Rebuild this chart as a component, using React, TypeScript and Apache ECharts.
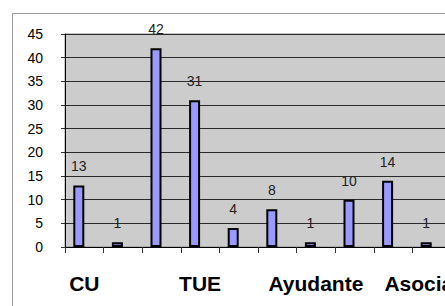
import React, { useEffect, useRef } from "react";
import * as echarts from "echarts";

const categories = [
  "CU",
  "CEU",
  "TU",
  "TUE",
  "Colaborador",
  "Contratado Doctor",
  "Ayudante",
  "Ayudante Doctor",
  "Emérito",
  "Asociado",
];
const values = [13, 1, 42, 31, 4, 8, 1, 10, 14, 1];
const emptySeries = [null, null, null, null, null, null, null, null, null, null];
const yTicks = { min: 0, max: 45, interval: 5 };

const FONT = "'Liberation Sans', Arial, sans-serif";

export default function App() {
  const ref = useRef<HTMLDivElement>(null);
  useEffect(() => {
    if (!ref.current) return;
    const chart = echarts.init(ref.current, null, { renderer: "svg" });
    chart.setOption({
      animation: false,
      backgroundColor: "#ffffff",
      graphic: [
        {
          type: "rect",
          shape: { x: 12.5, y: 13.5, width: 600, height: 400 },
          style: { fill: "none", stroke: "#9a9a9a", lineWidth: 1 },
          z: -10,
          silent: true,
        },
      ],
      grid: {
        left: 65,
        top: 34,
        width: 386,
        height: 213,
        show: true,
        containLabel: false,
        outerBoundsMode: "none",
        backgroundColor: "#cccccc",
        borderColor: "#8a8a8a",
        borderWidth: 1,
      },
      xAxis: {
        type: "category",
        data: categories,
        boundaryGap: true,
        axisLine: { show: true, lineStyle: { color: "#000", width: 1 } },
        axisTick: {
          show: true,
          alignWithLabel: false,
          interval: 0,
          length: 6,
          lineStyle: { color: "#333" },
        },
        axisLabel: {
          interval: 2,
          margin: 26,
          fontFamily: FONT,
          fontSize: 21,
          fontWeight: "bold",
          color: "#000",
        },
      },
      yAxis: {
        type: "value",
        min: yTicks.min,
        max: yTicks.max,
        interval: yTicks.interval,
        axisLine: { show: true, lineStyle: { color: "#000", width: 1 } },
        axisTick: { show: true, length: 4, lineStyle: { color: "#333" } },
        axisLabel: {
          margin: 22,
          fontFamily: FONT,
          fontSize: 14,
          color: "#000",
        },
        splitLine: { show: true, lineStyle: { color: "#2a2a2a", width: 1 } },
      },
      series: [
        {
          type: "bar",
          data: values,
          barWidth: 11,
          barGap: "0%",
          itemStyle: { color: "#9999ff", borderColor: "#000", borderWidth: 2 },
          label: {
            show: true,
            position: "top",
            distance: 12,
            fontFamily: FONT,
            fontSize: 14,
            color: "#222",
          },
        },
        {
          type: "bar",
          data: emptySeries,
          barWidth: 11,
          barGap: "0%",
          itemStyle: { color: "#993366" },
        },
      ],
    });
    return () => chart.dispose();
  }, []);
  return (
    <div
      style={{
        position: "absolute",
        left: 0,
        top: 0,
        width: 445,
        height: 306,
        overflow: "hidden",
        background: "#fff",
      }}
    >
      <div ref={ref} style={{ width: 470, height: 306 }} />
    </div>
  );
}
